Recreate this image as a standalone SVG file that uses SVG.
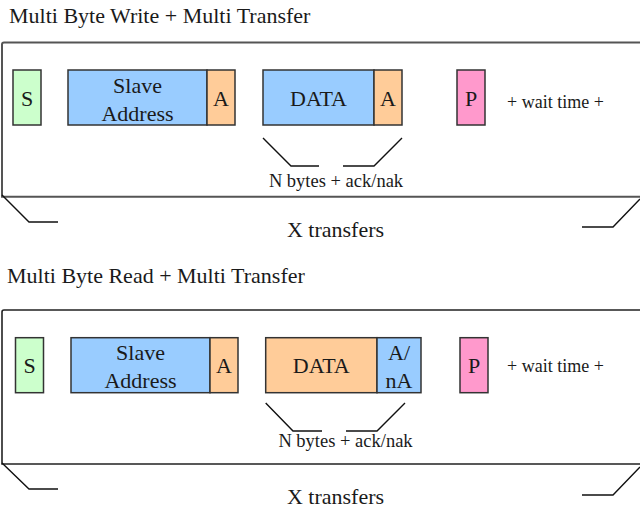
<svg xmlns="http://www.w3.org/2000/svg" width="640" height="509" viewBox="0 0 640 509" font-family="'Liberation Serif', 'DejaVu Serif', 'Times New Roman', serif">
<style>
text{font-family:'Liberation Serif','DejaVu Serif','Times New Roman',serif;fill:#1a1a1a}
.t{font-size:22px}
.m{font-size:22px;text-anchor:middle}
.w{font-size:18px}
.n{font-size:18.5px;text-anchor:middle}
.frame{fill:none;stroke:#555;stroke-width:2}
.frame2{fill:none;stroke:#222;stroke-width:1.6}
.br{fill:none;stroke:#111;stroke-width:1.4}
.bx{stroke:#333;stroke-width:1.5}
.g{fill:#ccffcc}.b{fill:#99ccff}.o{fill:#ffcc99}.p{fill:#ff99cc}
</style>
<rect width="640" height="509" fill="#fff"/>

<!-- Section 1 -->
<g id="title1"><text class="t" x="9" y="23">Multi Byte Write + Multi Transfer</text></g>
<g id="frame1"><path class="frame" d="M641,42.5 H4 Q2,42.5 2,44.5 V196.7 H641"/></g>
<g id="s1"><rect class="bx g" x="13" y="70" width="28" height="55"/><text class="m" x="27" y="106">S</text></g>
<g id="addr1"><rect class="bx b" x="68" y="70" width="139" height="55"/><text class="m" x="137.5" y="93">Slave</text><text class="m" x="137.5" y="121">Address</text></g>
<g id="ack1"><rect class="bx o" x="207" y="70" width="28" height="55"/><text class="m" x="221" y="106">A</text></g>
<g id="data1"><rect class="bx b" x="263" y="70" width="111" height="55"/><text class="m" x="318.5" y="106">DATA</text></g>
<g id="ack1b"><rect class="bx o" x="374" y="70" width="28" height="55"/><text class="m" x="388" y="106">A</text></g>
<g id="p1"><rect class="bx p" x="457" y="70" width="28" height="55"/><text class="m" x="471" y="106">P</text></g>
<g id="wait1"><text class="w" x="507" y="108">+ wait time +</text></g>
<g id="nbytes1"><text class="n" x="336" y="187">N bytes + ack/nak</text></g>
<g id="xt1"><text class="m" x="335.5" y="237">X transfers</text></g>

<!-- Section 2 -->
<g id="title2"><text class="t" x="7" y="283">Multi Byte Read + Multi Transfer</text></g>
<g id="frame2"><path class="frame2" d="M641,310 H4 Q2,310 2,312 V464 H641"/></g>
<g id="s2"><rect class="bx g" x="15.5" y="337.7" width="28" height="55"/><text class="m" x="29.5" y="373">S</text></g>
<g id="addr2"><rect class="bx b" x="71" y="337.7" width="139" height="55"/><text class="m" x="140.5" y="360">Slave</text><text class="m" x="140.5" y="388">Address</text></g>
<g id="ack2"><rect class="bx o" x="210" y="337.7" width="28" height="55"/><text class="m" x="224" y="373">A</text></g>
<g id="data2"><rect class="bx o" x="265.7" y="337.7" width="111.3" height="55"/><text class="m" x="321.3" y="373">DATA</text></g>
<g id="ack2b"><rect class="bx b" x="377" y="337.7" width="44" height="55"/><text class="m" x="399" y="360">A/</text><text class="m" x="399" y="388">nA</text></g>
<g id="p2"><rect class="bx p" x="460" y="337.7" width="28" height="55"/><text class="m" x="474" y="373">P</text></g>
<g id="wait2"><text class="w" x="507" y="372">+ wait time +</text></g>
<g id="nbytes2"><text class="n" x="345.5" y="447">N bytes + ack/nak</text></g>
<g id="xt2"><text class="m" x="335.5" y="504">X transfers</text></g>

<g id="connectors">
<path class="br" d="M263,138 L291,166 H319"/>
<path class="br" d="M343,166 H374 L402,138"/>
<path class="br" d="M2,195 L29,222 H58"/>
<path class="br" d="M582,227 H613 L640,199"/>
<path class="br" d="M265.7,403 L293,431 H322"/>
<path class="br" d="M346,431 H377 L405,403"/>
<path class="br" d="M2,463 L29,489 H58"/>
<path class="br" d="M582,495 H613 L640,467"/>
</g>
</svg>
